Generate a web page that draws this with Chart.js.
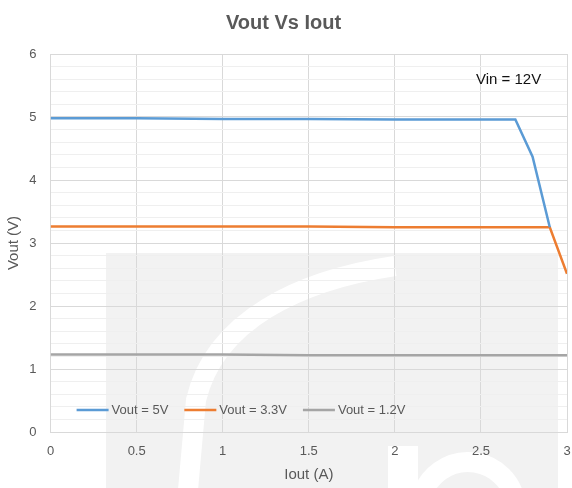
<!DOCTYPE html>
<html>
<head>
<meta charset="utf-8">
<script src="https://cdn.jsdelivr.net/npm/chart.js@4/dist/chart.umd.min.js"></script>
<style>
  html, body { margin: 0; padding: 0; background: #ffffff; }
  #wrap { width: 572px; height: 488px; position: relative; }
</style>
</head>
<body>
<div id="wrap"><canvas id="c" width="572" height="488"></canvas></div>
<script>
// ---- data ----
const chartTitle = "Vout Vs Iout";
const noteText = "Vin = 12V";
const xTitle = "Iout (A)";
const yTitle = "Vout (V)";
const seriesLabels = ["Vout = 5V", "Vout = 3.3V", "Vout = 1.2V"];

const iout5  = [0, 0.5, 1.0, 1.5, 2.0, 2.5, 2.7, 2.8, 2.9];
const vout5  = [4.98, 4.98, 4.97, 4.97, 4.96, 4.96, 4.96, 4.37, 3.25];

const iout33 = [0, 0.5, 1.0, 1.5, 2.0, 2.5, 2.9, 3.0];
const vout33 = [3.26, 3.26, 3.26, 3.26, 3.25, 3.25, 3.25, 2.51];

const iout12 = [0, 0.5, 1.0, 1.5, 2.0, 2.5, 3.0];
const vout12 = [1.23, 1.23, 1.23, 1.22, 1.22, 1.22, 1.22];

const xMin = 0, xMax = 3, xStep = 0.5;
const yMin = 0, yMax = 6, yStep = 0.2;

// ---- helpers ----
const toPts = (xs, ys) => xs.map((x, i) => ({ x: x, y: ys[i] }));
const FONT = "'Liberation Sans', Arial, sans-serif";
const colors = ["#5b9bd5", "#ed7d31", "#a5a5a5"];
const isInt = v => Math.abs(v - Math.round(v)) < 1e-6;
const fmtX = v => String(Math.round(v * 10) / 10);

// background watermark (decoration behind the plot)
const watermark = {
  id: 'watermark',
  beforeDraw(chart) {
    const c = chart.ctx;
    c.save();
    c.fillStyle = '#ffffff';
    c.fillRect(0, 0, chart.width, chart.height);
    c.fillStyle = '#f2f2f2';
    c.fillRect(106, 253, 452, 235);
    c.strokeStyle = '#ffffff';
    c.lineCap = 'butt';
    // swirl band
    c.lineWidth = 20;
    c.beginPath();
    c.moveTo(395, 266);
    c.bezierCurveTo(300, 280, 215, 320, 196, 400);
    c.lineTo(188, 490);
    c.stroke();
    // lower right shape
    c.lineWidth = 30;
    c.beginPath();
    c.moveTo(403, 446);
    c.lineTo(403, 490);
    c.stroke();
    c.lineWidth = 20;
    c.beginPath();
    c.arc(468, 510, 48, Math.PI * 1.05, Math.PI * 1.95);
    c.stroke();
    c.restore();
  }
};

// legend drawn inside the plot area + note text
const innerLegend = {
  id: 'innerLegend',
  afterDatasetsDraw(chart) {
    const c = chart.ctx;
    const area = chart.chartArea;
    c.save();
    // note
    c.font = "15px " + FONT;
    c.fillStyle = '#111111';
    c.textBaseline = 'middle';
    c.textAlign = 'left';
    c.fillText(noteText, area.right - 91, area.top + 26);
    // legend
    c.font = "13px " + FONT;
    let x = area.left + 26;
    const y = area.bottom - 22;
    chart.data.datasets.forEach(ds => {
      c.strokeStyle = ds.borderColor;
      c.lineWidth = 2.5;
      c.beginPath();
      c.moveTo(x, y);
      c.lineTo(x + 32, y);
      c.stroke();
      x += 35;
      c.fillStyle = '#595959';
      c.fillText(ds.label, x, y);
      x += c.measureText(ds.label).width + 16;
    });
    c.restore();
  }
};

new Chart(document.getElementById('c'), {
  type: 'line',
  data: {
    datasets: [
      { label: seriesLabels[0], data: toPts(iout5, vout5) },
      { label: seriesLabels[1], data: toPts(iout33, vout33) },
      { label: seriesLabels[2], data: toPts(iout12, vout12) }
    ].map((d, i) => Object.assign(d, {
      borderColor: colors[i],
      backgroundColor: colors[i],
      borderWidth: 2.5,
      pointRadius: 0,
      tension: 0,
      fill: false
    }))
  },
  options: {
    responsive: false,
    animation: false,
    devicePixelRatio: 1,
    layout: { padding: { left: 0, right: 5, top: 0, bottom: 0 } },
    plugins: {
      legend: { display: false },
      tooltip: { enabled: false },
      title: {
        display: true,
        text: chartTitle,
        color: '#595959',
        font: { family: FONT, size: 20, weight: 'bold', lineHeight: 1.2 },
        padding: { top: 11, bottom: 19 }
      }
    },
    scales: {
      x: {
        type: 'linear',
        min: xMin, max: xMax,
        afterFit(s) { s.height = 56; s.paddingRight = 0; s.paddingLeft = 0; },
        ticks: {
          stepSize: xStep,
          color: '#595959',
          font: { family: FONT, size: 13 },
          padding: 12,
          maxRotation: 0,
          callback: v => fmtX(v)
        },
        grid: { color: '#d9d9d9', lineWidth: 1, drawTicks: false },
        border: { color: '#d9d9d9' },
        title: {
          display: true, text: xTitle, color: '#595959',
          font: { family: FONT, size: 15 },
          padding: { top: 4, bottom: 4 }
        }
      },
      y: {
        type: 'linear',
        min: yMin, max: yMax,
        afterFit(s) { s.width = 50.6; s.paddingTop = 0; s.paddingBottom = 0; },
        ticks: {
          stepSize: yStep,
          autoSkip: false,
          color: '#595959',
          font: { family: FONT, size: 13 },
          padding: 14,
          callback: v => isInt(v) ? String(Math.round(v)) : ''
        },
        grid: {
          drawTicks: false,
          lineWidth: 1,
          color: ctx => isInt(ctx.tick.value) ? '#d9d9d9' : '#efefef'
        },
        border: { color: '#d9d9d9' },
        title: {
          display: true, text: yTitle, color: '#595959',
          font: { family: FONT, size: 15 },
          padding: { top: 5, bottom: 5 }
        }
      }
    }
  },
  plugins: [watermark, innerLegend]
});
</script>
</body>
</html>
